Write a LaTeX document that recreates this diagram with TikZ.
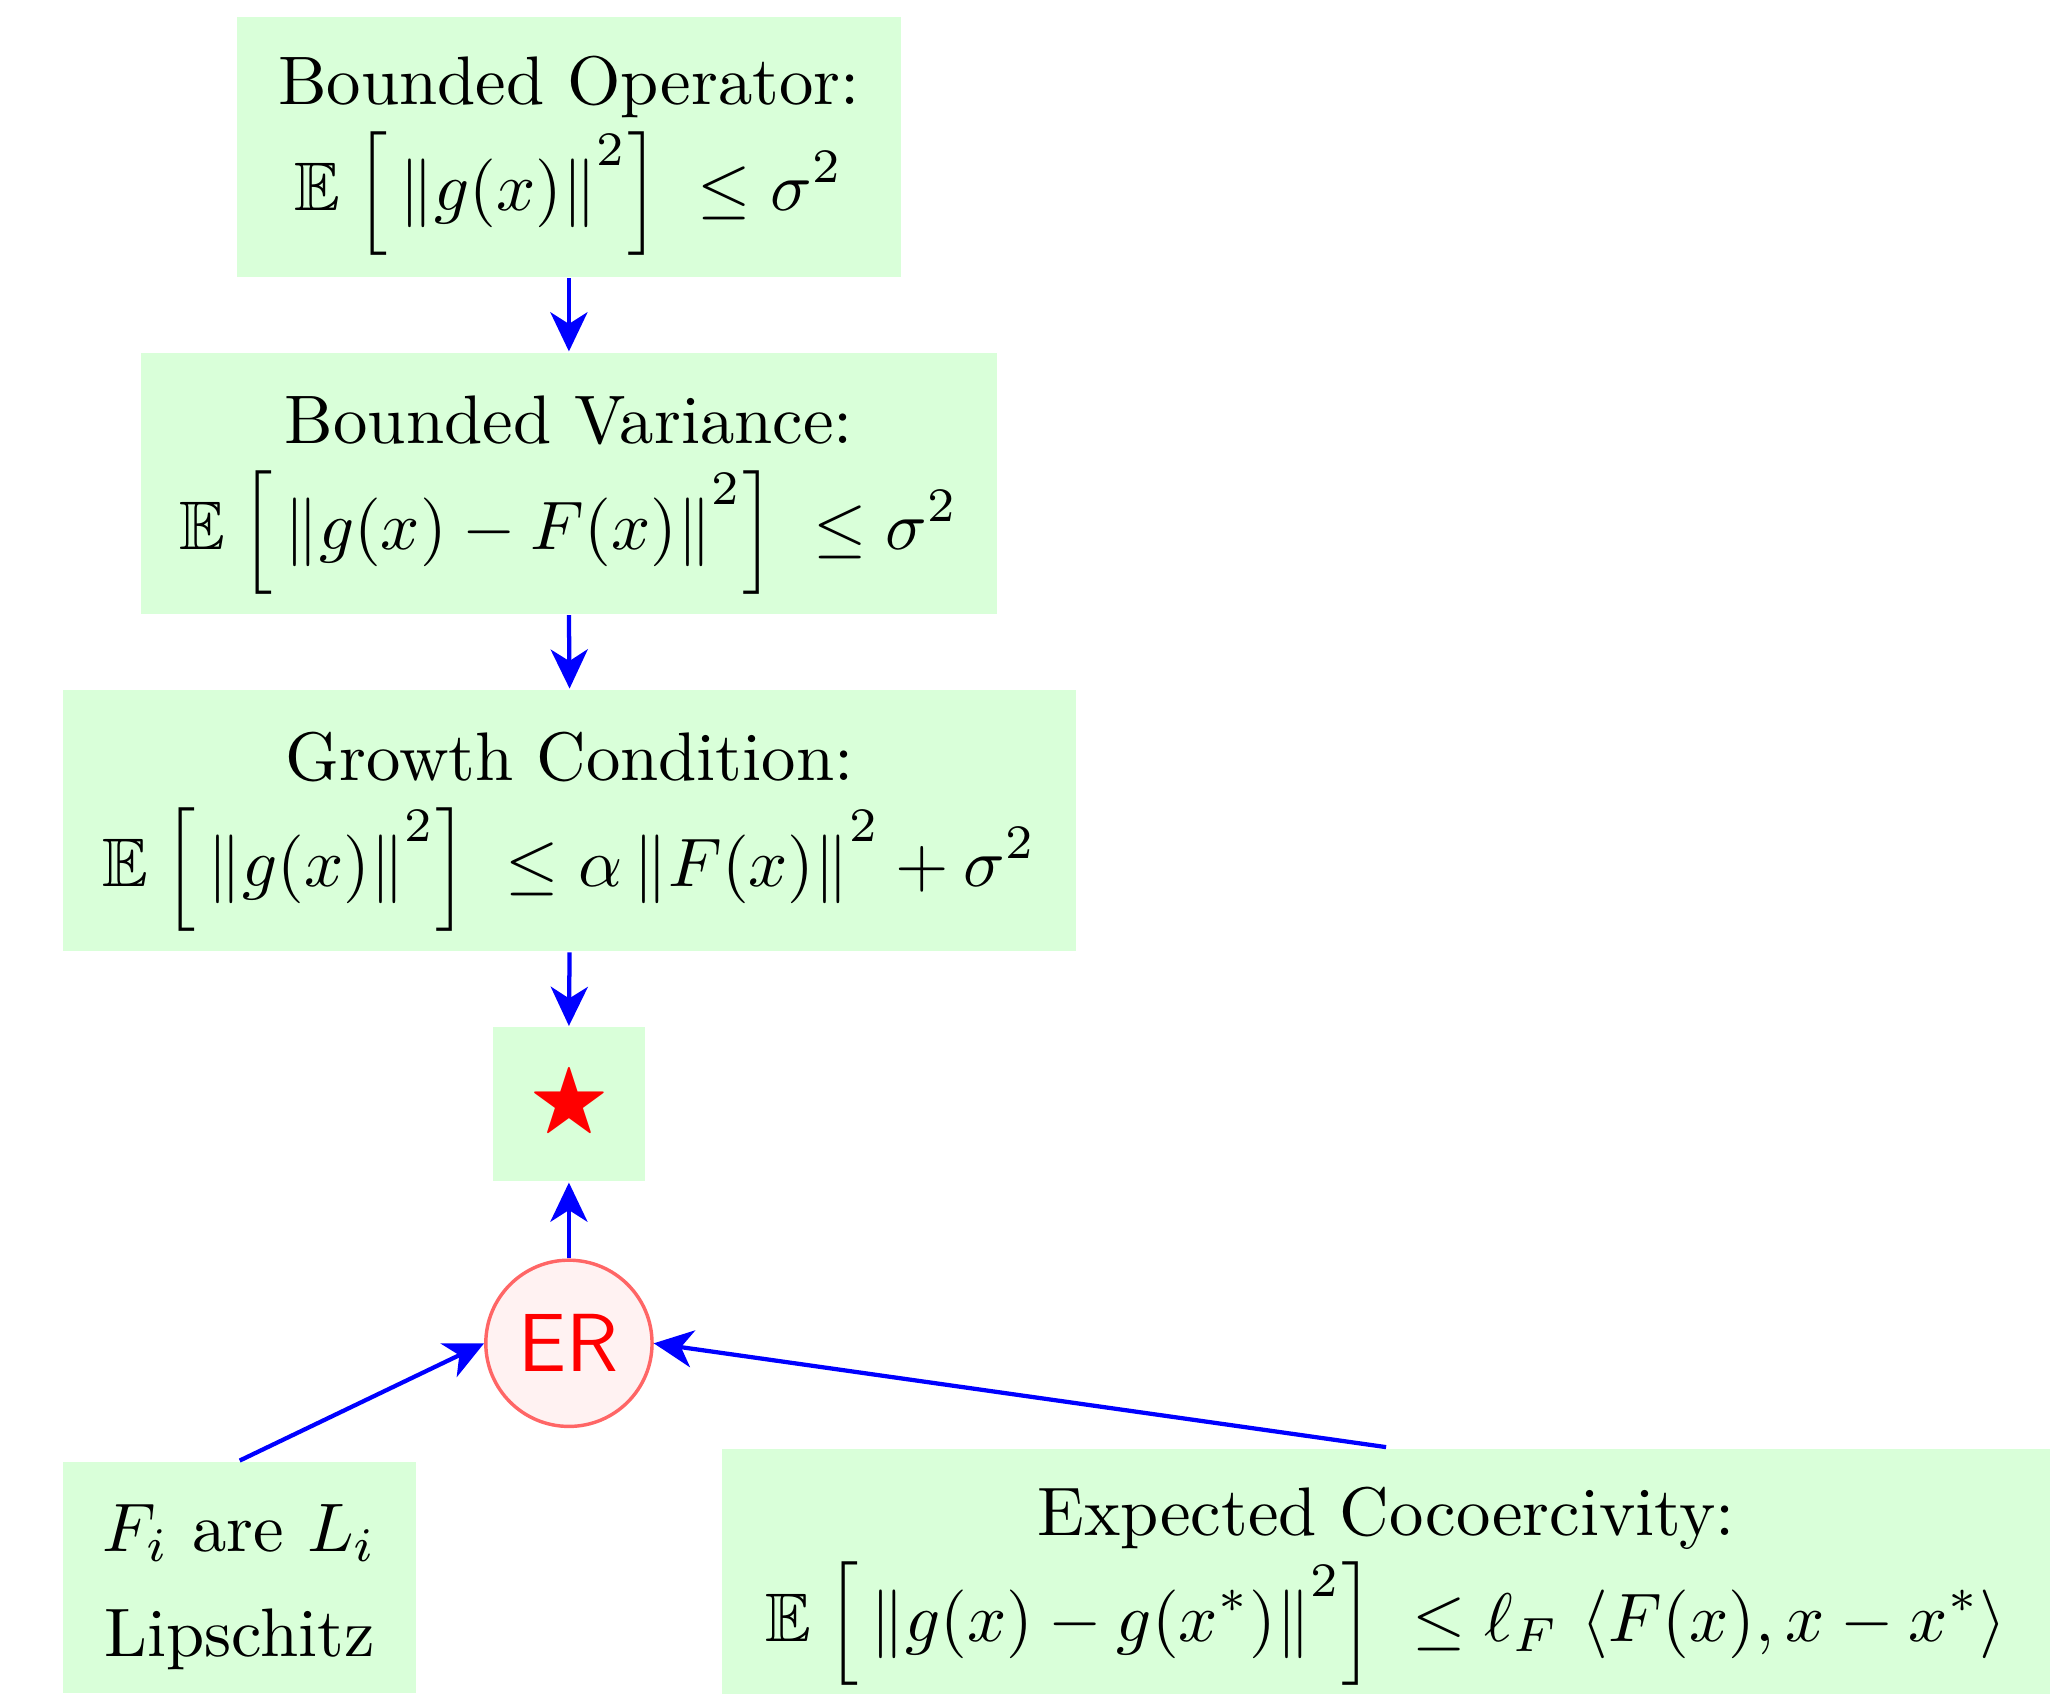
\documentclass[tikz,border=0pt]{standalone}
\usepackage{amsmath,amssymb}
\usetikzlibrary{arrows.meta}
\newcommand{\supraise}[1]{^{\raisebox{1.5pt}{$\scriptstyle #1$}}}
\newcommand{\Ex}{\mathbb{E}\mkern4mu}
\newcommand{\topstrut}[1]{\rule{0pt}{#1}}
\begin{document}
\begin{tikzpicture}[x=0.1917pt,y=-0.1917pt,
  box/.style={fill=green!15, inner sep=0pt, align=center,
    font={\baselineskip=15.4pt\lineskiplimit=-40pt\lineskip=0pt}},
  arr/.style={blue, line width=0.62pt, -{Stealth[length=5.7pt,width=5.4pt,inset=1.7pt]}}]
\useasboundingbox (0,0) rectangle (1568,1286);
\node[box, minimum width=96.6pt, minimum height=37.8pt] (bo) at (432,111.5)
  {\topstrut{9.6pt}Bounded Operator:\\ $\displaystyle\Ex\Big[\left\|g(x)\right\|\supraise{2}\Bigr]\mkern5mu\leq\sigma^2$};
\node[box, minimum width=124.6pt, minimum height=38pt] (bv) at (432,367)
  {\topstrut{10.4pt}Bounded Variance:\\ $\displaystyle\Ex\Big[\left\|g(x)-F(x)\right\|\supraise{2}\Bigr]\mkern5mu\leq\sigma^2$};
\node[box, minimum width=147.4pt, minimum height=38pt] (gc) at (432.5,623)
  {\topstrut{10.4pt}Growth Condition:\\ $\displaystyle\Ex\Big[\left\|g(x)\right\|\supraise{2}\Bigr]\mkern5mu\leq\alpha\left\|F(x)\right\|\supraise{2}+\sigma^2$};
\node[box, minimum width=22.2pt, minimum height=22.4pt] (star) at (432,838.5)
  {\color{red}\scalebox{1.2}{$\bigstar$}};
\node[circle, draw=red!60, fill=red!5, line width=0.5pt, minimum size=24.2pt, inner sep=0pt,
  text=red, font=\sffamily\large] (er) at (432,1020) {ER};
\node[box, minimum width=51.4pt, minimum height=33.7pt] (fi) at (182,1198)
  {\topstrut{9.6pt}$F_i$ are $L_i$\\ Lipschitz};
\node[box, minimum width=193.4pt, minimum height=35.7pt] (ec) at (1052.5,1193)
  {\topstrut{11.5pt}Expected Cocoercivity:\\ $\displaystyle\Ex\Big[\left\|g(x)-g(x^*)\right\|\supraise{2}\Bigr]\mkern5mu\leq\ell_F\,\left\langle F(x),x-x^*\right\rangle$};
\draw[arr] (bo.south) -- (bv.north);
\draw[arr] (bv.south) -- (gc.north);
\draw[arr] (gc.south) -- (star.north);
\draw[arr] (er.north) -- (star.south);
\draw[arr] (fi.north) -- (er.west);
\draw[arr] (ec.north) -- (er.east);
\end{tikzpicture}
\end{document}
